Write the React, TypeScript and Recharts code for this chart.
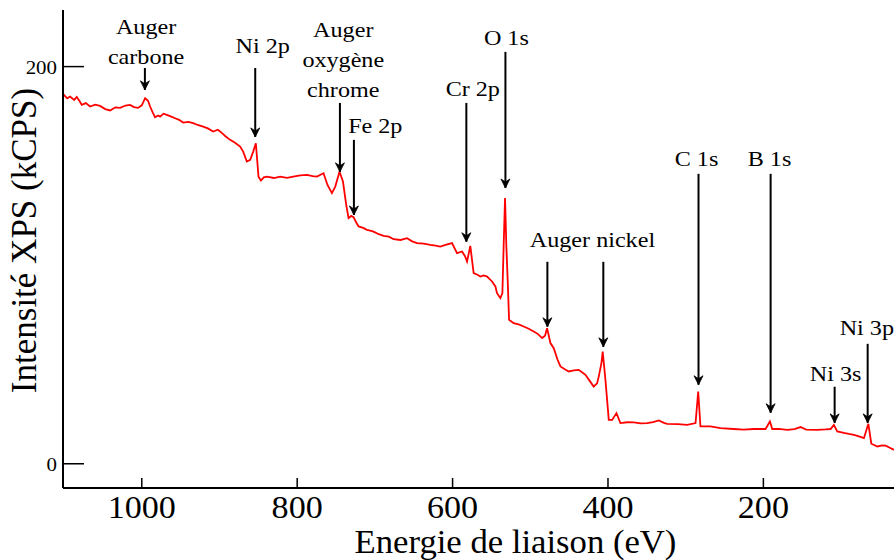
import React from 'react';
import { LineChart, Line, XAxis, YAxis, ReferenceLine, ReferenceDot, Label } from 'recharts';

// Spectrum: [binding energy (eV), intensity (kCPS)]
const spectrum: [number, number][] = [
  [1101.4, 186.3], [1096, 184.0], [1092.3, 184.9], [1087, 183.2], [1083.7, 184.7], [1080, 182.5],
  [1077.3, 180.7], [1072, 181.6], [1066.6, 179.9], [1060, 180.8], [1053.7, 180.2], [1047, 178.6],
  [1040.8, 177.9], [1034, 179.5], [1027.9, 179.2], [1021, 180.4], [1015.1, 180.7], [1010, 179.6],
  [1004.8, 179.2], [1000, 180.5], [995.7, 184.1], [992, 182.8], [989.3, 179.9], [986, 177.0],
  [982.9, 174.5], [979, 175.4], [976.4, 174.8], [972, 176.3], [967.8, 175.7], [962, 174.8],
  [957.1, 174.0], [952, 173.2], [946.8, 171.8], [940, 172.2], [933.9, 171.5], [928, 170.6],
  [921.0, 169.8], [915, 168.9], [908.2, 167.3], [902, 168.2], [897.0, 166.6], [892, 164.8],
  [886.3, 163.1], [880, 161.6], [873.4, 159.7], [869.5, 157.2], [864.8, 152.2], [860.5, 153.0],
  [856.6, 157.2], [853.2, 161.4], [849.8, 144.6], [846.7, 142.6], [843, 144.2], [839.0, 144.6],
  [830, 143.9], [821.9, 144.6], [813, 144.0], [805.1, 144.6], [796, 145.2], [787.5, 145.5],
  [780, 144.9], [774.6, 144.6], [766.1, 146.3], [761.0, 140.4], [755.3, 136.3], [751.0, 139.6],
  [745.5, 147.1], [741.1, 142.1], [736.9, 130.4], [733.9, 123.7], [730.5, 124.8], [727.5, 124.2],
  [724, 121.5], [721.0, 119.5], [715, 118.8], [710.2, 117.8], [706, 117.4], [701.7, 116.9],
  [695, 115.6], [688.8, 114.8], [682, 114.4], [675.9, 113.1], [667, 112.7], [658.7, 113.6],
  [652, 112.0], [645.8, 111.1], [637, 110.9], [628.7, 110.2], [622, 109.8], [615.8, 109.4],
  [608, 110.3], [600.7, 111.1], [594.3, 106.1], [587.8, 106.9], [584, 104.5], [581.4, 101.8],
  [577.2, 109.7], [572.9, 96.0], [568, 95.2], [564.3, 94.3], [560, 94.8], [555.6, 94.3],
  [549.2, 91.8], [544.9, 89.3], [542.8, 85.9], [538.5, 83.4], [535.9, 85.9], [534.3, 109.4],
  [532.5, 133.8], [530.8, 109.4], [529.1, 92.6], [527.3, 72.5], [521.4, 70.8], [515, 70.2],
  [508.5, 69.1], [502, 68.0], [495.6, 66.6], [490, 65.3], [484.8, 63.3], [481, 64.5],
  [478.4, 68.3], [474.1, 60.8], [469.8, 58.2], [465, 52.5], [461.2, 49.0], [455, 47.5],
  [450.5, 46.5], [444, 47.0], [437.7, 47.3], [433, 46.0], [429.0, 44.8], [424, 42.0],
  [418.4, 38.9], [414, 40.5], [411.9, 43.9], [408.5, 50.5], [406.8, 56.5], [403.3, 42.3],
  [399.0, 22.1], [394.6, 22.1], [389.1, 25.5], [384.0, 20.5], [375, 20.9], [366.8, 20.8],
  [358, 20.3], [349.6, 20.5], [342, 21.0], [334.6, 21.8], [328, 20.6], [323.8, 20.1],
  [310, 20.0], [298.0, 19.6], [287.3, 20.5], [283.9, 36.4], [281.0, 18.8], [268.1, 18.8],
  [255.2, 18.0], [238.4, 17.5], [225, 17.2], [212.7, 17.5], [197.2, 17.5], [191.6, 21.3],
  [188.6, 17.5], [180, 17.6], [169.3, 17.1], [160, 17.4], [152.2, 18.5], [145, 17.2],
  [130.6, 17.1], [120, 17.3], [113.5, 17.5], [109.3, 19.6], [104.9, 16.3], [96.4, 15.5],
  [90, 15.0], [83.5, 14.6], [77, 13.8], [70.6, 12.9], [64.9, 20.1], [61.1, 10.1],
  [53.3, 8.7], [47, 9.3], [42.6, 9.1], [36, 7.8], [31.9, 7.0],
];

const xTicks = [1000, 800, 600, 400, 200];
const yTicks = [0, 200];
const xDomain: [number, number] = [31.9, 1101.4];
const yDomain: [number, number] = [-12.2, 228.5];

const xTitle = 'Energie de liaison (eV)';
const yTitle = 'Intensité XPS (kCPS)';

// Peak labels: text lines, anchor position (eV, intensity) of the first line's baseline
const peakLabels = [
  { lines: ['Auger', 'carbone'], e: 994.5, i: 216.5, anchor: 'middle' },
  { lines: ['Ni 2p'], e: 844.4, i: 206.9, anchor: 'middle' },
  { lines: ['Auger', 'oxygène', 'chrome'], e: 740.7, i: 215.0, anchor: 'middle' },
  { lines: ['Fe 2p'], e: 699.5, i: 166.6, anchor: 'middle' },
  { lines: ['Cr 2p'], e: 574.0, i: 185.3, anchor: 'middle' },
  { lines: ['O 1s'], e: 530.8, i: 210.9, anchor: 'middle' },
  { lines: ['Auger nickel'], e: 420.0, i: 109.2, anchor: 'middle' },
  { lines: ['C 1s'], e: 286.1, i: 150.0, anchor: 'middle' },
  { lines: ['B 1s'], e: 192.1, i: 150.0, anchor: 'middle' },
  { lines: ['Ni 3s'], e: 107.0, i: 41.8, anchor: 'middle' },
  { lines: ['Ni 3p'], e: 101.8, i: 64.9, anchor: 'start' },
];

// Arrows: energy, start intensity, tip intensity
const arrows = [
  { e: 996, from: 199.3, to: 188.3 },
  { e: 854, from: 199.3, to: 164.6 },
  { e: 745, from: 181.7, to: 147.0 },
  { e: 727, from: 163.1, to: 125.3 },
  { e: 582.3, from: 181.7, to: 111.8 },
  { e: 532, from: 207.4, to: 138.9 },
  { e: 478, from: 101.7, to: 69.0 },
  { e: 406, from: 101.7, to: 58.9 },
  { e: 283.5, from: 146.0, to: 39.8 },
  { e: 190.7, from: 146.0, to: 25.7 },
  { e: 108.3, from: 38.8, to: 20.6 },
  { e: 65.8, from: 60.4, to: 20.6 },
];

const data = spectrum.map(([e, i]) => ({ e, i }));

const FONT = "'Liberation Serif', 'Times New Roman', 'DejaVu Serif', serif";

const SText = ({ x, y, size, sx = 1, anchor = 'middle', children }: any) => (
  <text
    transform={`translate(${x},${y}) scale(${sx},1)`}
    style={{ fontFamily: FONT, fontSize: size }}
    textAnchor={anchor}
    fill="#000"
  >
    {children}
  </text>
);

const BottomTick = (p: any) => (
  <g>
    <line x1={p.x} y1={p.y} x2={p.x} y2={p.y - 10} stroke="#000" strokeWidth={1.5} />
    <SText x={p.x} y={p.y + 30} size={31} sx={1.1}>{p.payload.value}</SText>
  </g>
);

const TopTick = (p: any) => (
  <g>
    <line x1={p.x} y1={p.y} x2={p.x} y2={p.y + 10} stroke="#000" strokeWidth={1.5} />
  </g>
);

const LeftTick = (p: any) => (
  <g>
    <line x1={p.x} y1={p.y} x2={p.x + 21} y2={p.y} stroke="#000" strokeWidth={1.5} />
    <SText x={p.x - 6} y={p.y + 7} size={19} sx={1.1} anchor="end">{p.payload.value}</SText>
  </g>
);

const PeakText = ({ cx, cy, lines, anchor }: any) => (
  <g>
    {lines.map((t: string, k: number) => (
      <SText key={k} x={cx} y={cy + k * 30} size={21} sx={1.15} anchor={anchor}>{t}</SText>
    ))}
  </g>
);

const ArrowHead = ({ cx, cy }: any) => (
  <path
    d={`M${cx},${cy} L${cx - 4.5},${cy - 9} L${cx},${cy - 6} L${cx + 4.5},${cy - 9} Z`}
    fill="#000"
    stroke="#000"
    strokeWidth={0.8}
  />
);

export default function App() {
  return (
    <div style={{ position: 'absolute', left: 0, top: 0, width: 894, height: 560, overflow: 'hidden', background: '#fff' }}>
      <LineChart width={894} height={560} data={data} margin={{ top: 10, right: 0, bottom: 0, left: 0 }}>
        <XAxis
          dataKey="e"
          type="number"
          domain={xDomain}
          reversed
          allowDataOverflow
          ticks={xTicks}
          height={72}
          tickSize={0}
          tickMargin={0}
          tickLine={false}
          tick={BottomTick}
          axisLine={{ stroke: '#000', strokeWidth: 2 }}
        >
          <Label
            content={(lp: any) => {
              const vb = lp.viewBox || { x: 63, y: 488, width: 831, height: 72 };
              return (
                <SText x={vb.x + vb.width / 2 + 37} y={vb.y + 65} size={34} sx={1.02}>{xTitle}</SText>
              );
            }}
          />
        </XAxis>
        <XAxis
          xAxisId="top"
          orientation="top"
          dataKey="e"
          type="number"
          domain={xDomain}
          reversed
          allowDataOverflow
          ticks={xTicks}
          height={0}
          tickSize={0}
          tickMargin={0}
          tickLine={false}
          tick={TopTick}
          axisLine={{ stroke: '#000', strokeWidth: 2 }}
        />
        <YAxis
          type="number"
          domain={yDomain}
          allowDataOverflow
          ticks={yTicks}
          width={63}
          tickSize={0}
          tickMargin={0}
          tickLine={false}
          tick={LeftTick}
          axisLine={{ stroke: '#000', strokeWidth: 2 }}
        >
          <Label
            content={(lp: any) => {
              const vb = lp.viewBox || { x: 0, y: 10, width: 63, height: 478 };
              const cy = vb.y + vb.height / 2 - 8.5;
              return (
                <text
                  transform={`translate(${vb.x + 36},${cy}) rotate(-90)`}
                  style={{ fontFamily: FONT, fontSize: 35 }}
                  textAnchor="middle"
                  fill="#000"
                >
                  {yTitle}
                </text>
              );
            }}
          />
        </YAxis>
        <Line
          dataKey="i"
          type="linear"
          stroke="#ff0000"
          strokeWidth={1.8}
          dot={false}
          activeDot={false}
          isAnimationActive={false}
        />
        {arrows.map((a, k) => (
          <ReferenceLine
            key={`s${k}`}
            segment={[{ x: a.e, y: a.from }, { x: a.e, y: a.to }]}
            stroke="#000"
            strokeWidth={2}
            ifOverflow="visible"
          />
        ))}
        {arrows.map((a, k) => (
          <ReferenceDot
            key={`h${k}`}
            x={a.e}
            y={a.to}
            r={4}
            ifOverflow="visible"
            shape={(p: any) => <ArrowHead cx={p.cx} cy={p.cy} />}
          />
        ))}
        {peakLabels.map((l, k) => (
          <ReferenceDot
            key={`l${k}`}
            x={l.e}
            y={l.i}
            r={4}
            ifOverflow="visible"
            shape={(p: any) => <PeakText cx={p.cx} cy={p.cy} lines={l.lines} anchor={l.anchor} />}
          />
        ))}
      </LineChart>
    </div>
  );
}
